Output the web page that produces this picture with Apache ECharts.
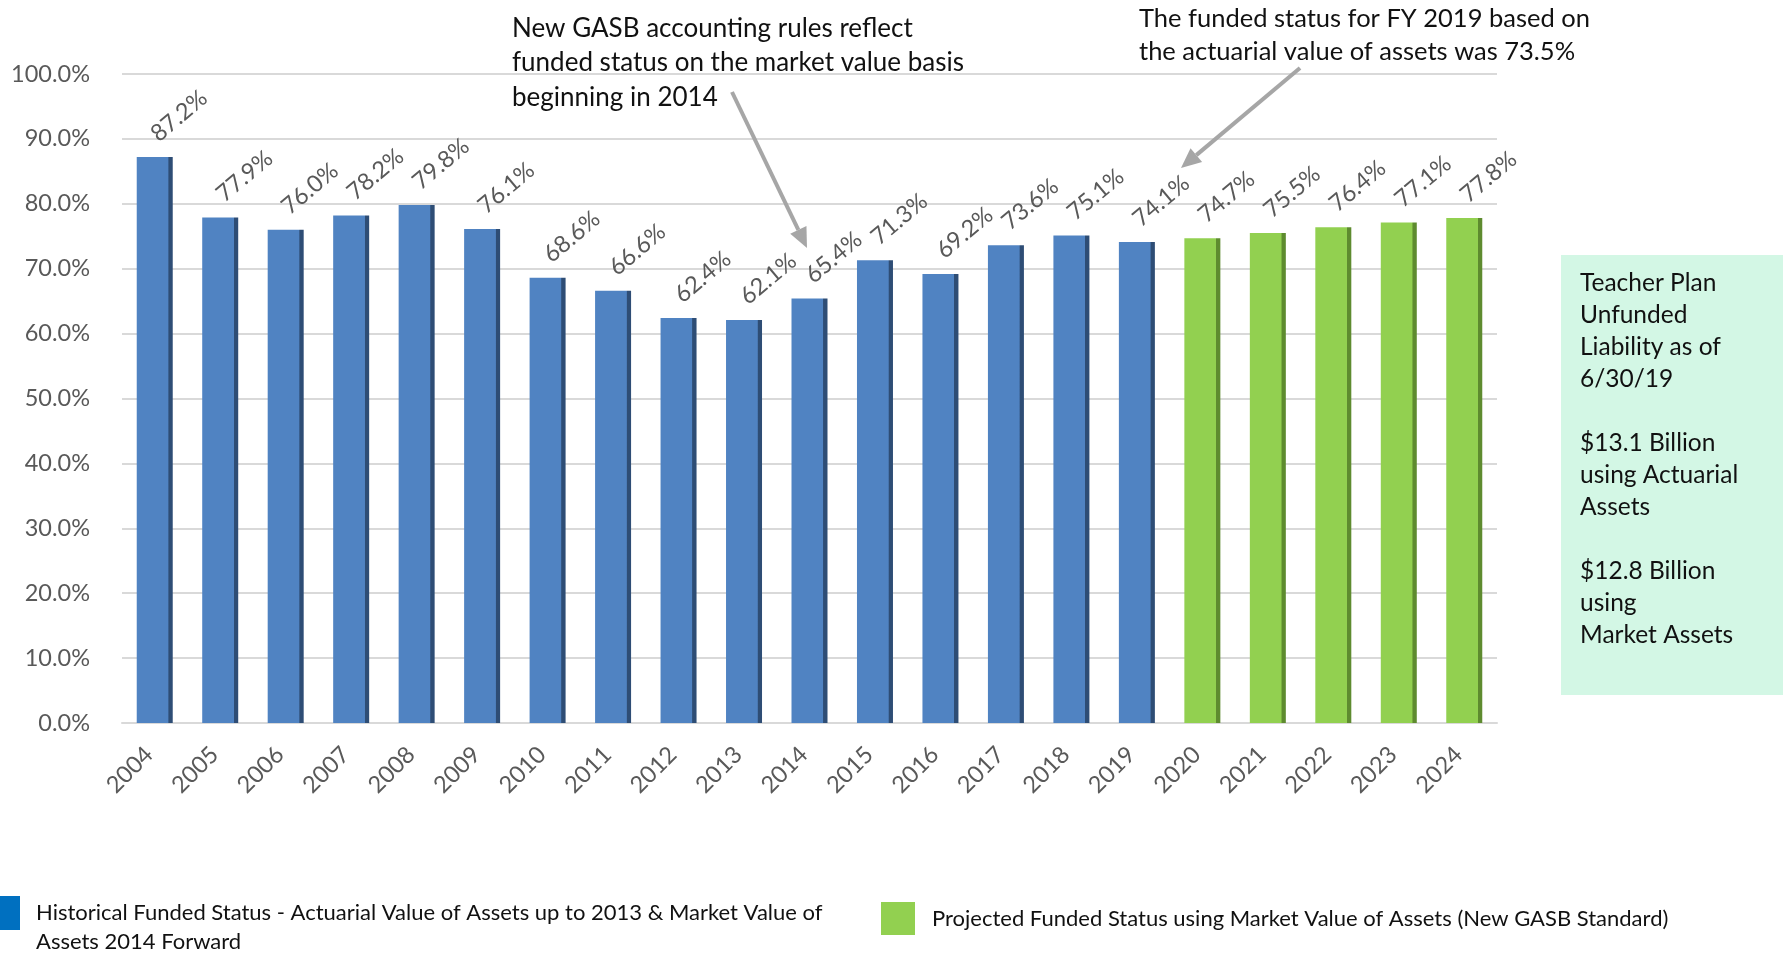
<!DOCTYPE html>
<html>
<head>
<meta charset="utf-8">
<title>Teacher Plan Funded Status</title>
<script src="https://cdn.jsdelivr.net/npm/echarts@6/dist/echarts.min.js"></script>
<style>
  html, body { margin: 0; padding: 0; background: #ffffff; }
  #chart { width: 1783px; height: 954px; }
</style>
</head>
<body>
<div id="chart"></div>
<script>
// Fiscal years on the category axis
const years = ['2004', '2005', '2006', '2007', '2008', '2009', '2010', '2011', '2012', '2013',
               '2014', '2015', '2016', '2017', '2018', '2019', '2020', '2021', '2022', '2023', '2024'];

// Funded status (%) — historical actuarial/market values
const historical = [87.2, 77.9, 76.0, 78.2, 79.8, 76.1, 68.6, 66.6, 62.4, 62.1,
                    65.4, 71.3, 69.2, 73.6, 75.1, 74.1, null, null, null, null, null];

// Funded status (%) — projected using market value of assets
const projected = [null, null, null, null, null, null, null, null, null, null,
                   null, null, null, null, null, null, 74.7, 75.5, 76.4, 77.1, 77.8];

// Value axis range and step
const yMin = 0, yMax = 100, yStep = 10;

const seriesNames = [
  'Historical Funded Status - Actuarial Value of Assets up to 2013 & Market Value of Assets 2014 Forward',
  'Projected Funded Status using Market Value of Assets (New GASB Standard)'
];

const FONT = 'Lato, "Noto Sans", sans-serif';
const GREY_TEXT = '#595959';

// Bar fill with a darker right edge for the bevelled look
function edgeFill(main, dark) {
  return new echarts.graphic.LinearGradient(0, 0, 1, 0, [
    { offset: 0, color: main },
    { offset: 0.87, color: main },
    { offset: 0.89, color: dark },
    { offset: 1, color: dark }
  ]);
}

const valueLabel = {
  show: true,
  position: 'top',
  distance: 24,
  rotate: 40,
  align: 'left',
  verticalAlign: 'bottom',
  offset: [-3, 14.5],
  color: GREY_TEXT,
  fontFamily: FONT,
  fontSize: 23.5,
  formatter: p => p.value == null ? '' : p.value.toFixed(1) + '%'
};

// Arrow built from a shaft and a triangular head
function arrow(x1, y1, x2, y2) {
  const color = '#a6a6a6';
  const len = 20, half = 9;
  const dx = x2 - x1, dy = y2 - y1;
  const d = Math.sqrt(dx * dx + dy * dy);
  const ux = dx / d, uy = dy / d;
  const bx = x2 - ux * len, by = y2 - uy * len;
  return [
    { type: 'line', shape: { x1: x1, y1: y1, x2: bx, y2: by },
      style: { stroke: color, lineWidth: 4 }, z: 10 },
    { type: 'polygon',
      shape: { points: [[x2, y2], [bx - uy * half, by + ux * half], [bx + uy * half, by - ux * half]] },
      style: { fill: color }, z: 10 }
  ];
}

const noteStyle = { fill: '#111111', textVerticalAlign: 'top' };

const boxLines = ['Teacher Plan', 'Unfunded', 'Liability as of', '6/30/19', '',
                  '$13.1 Billion', 'using Actuarial', 'Assets', '',
                  '$12.8 Billion', 'using', 'Market Assets'];

const chart = echarts.init(document.getElementById('chart'), null, { renderer: 'canvas' });

chart.setOption({
  backgroundColor: '#ffffff',
  animation: false,
  textStyle: { fontFamily: FONT },
  grid: { left: 122, right: 286, top: 74, bottom: 231, containLabel: false },
  xAxis: {
    type: 'category',
    data: years,
    axisLine: { show: true, lineStyle: { color: '#d9d9d9', width: 2 } },
    axisTick: { show: false },
    axisLabel: {
      rotate: 45, margin: 22, color: GREY_TEXT, fontSize: 23.5, fontFamily: FONT,
      interval: 0, padding: [0, 8, 0, 0]
    }
  },
  yAxis: {
    type: 'value',
    min: yMin, max: yMax, interval: yStep,
    axisLine: { show: false },
    axisTick: { show: false },
    splitLine: { lineStyle: { color: '#d9d9d9', width: 2 } },
    axisLabel: {
      margin: 32, color: GREY_TEXT, fontSize: 23.5, fontFamily: FONT,
      formatter: v => v.toFixed(1) + '%'
    }
  },
  legend: [
    {
      left: 0, top: 869.5, padding: 0, orient: 'horizontal',
      itemWidth: 20, itemHeight: 34, icon: 'rect',
      data: [{ name: seriesNames[0], itemStyle: { color: '#0070c0' } }],
      // leading blank line keeps the first text line level with the swatch
      formatter: () => '\nHistorical Funded Status - Actuarial Value of Assets up to 2013 & Market Value of\nAssets 2014 Forward',
      textStyle: { color: '#111111', fontSize: 22, fontFamily: FONT, lineHeight: 29, padding: [0, 0, 0, 11] },
      selectedMode: false
    },
    {
      left: 876, top: 897,
      itemWidth: 34, itemHeight: 33, icon: 'rect',
      data: [{ name: seriesNames[1], itemStyle: { color: '#92d050' } }],
      textStyle: { color: '#111111', fontSize: 22, fontFamily: FONT, padding: [0, 0, 0, 12] },
      selectedMode: false
    }
  ],
  series: [
    {
      name: seriesNames[0],
      type: 'bar',
      data: historical,
      barWidth: 36,
      barGap: '-100%',
      itemStyle: { color: edgeFill('#5083c2', '#2e4d75') },
      label: valueLabel
    },
    {
      name: seriesNames[1],
      type: 'bar',
      data: projected,
      barWidth: 36,
      barGap: '-100%',
      itemStyle: { color: edgeFill('#92d050', '#5e8b2f') },
      label: valueLabel
    }
  ],
  graphic: [
    { type: 'text', left: 512, top: 11,
      style: Object.assign({}, noteStyle, {
        text: 'New GASB accounting rules reflect\nfunded status on the market value basis\nbeginning in 2014',
        font: '26px ' + FONT, lineHeight: 34.5 }) },
    { type: 'text', left: 1139, top: 2,
      style: Object.assign({}, noteStyle, {
        text: 'The funded status for FY 2019 based on\nthe actuarial value of assets was 73.5%',
        font: '25.5px ' + FONT, lineHeight: 33 }) },
    ...arrow(732, 92, 807, 248),
    ...arrow(1300, 68, 1181, 168),
    { type: 'rect', shape: { x: 1561, y: 255, width: 222, height: 440 },
      style: { fill: '#d3f7e5' }, z: 1 },
    { type: 'text', x: 1580, y: 267, z: 2,
      style: { text: boxLines.join('\n'), fill: '#111111', font: '24.5px ' + FONT,
               lineHeight: 32, textVerticalAlign: 'top' } }
  ]
});
</script>
</body>
</html>
